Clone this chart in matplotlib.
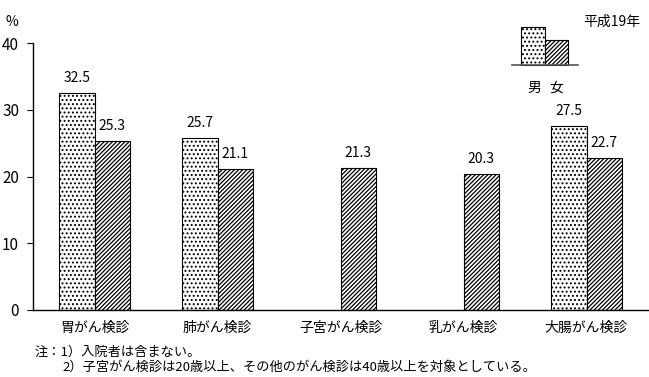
import matplotlib
matplotlib.use("Agg")
import matplotlib.pyplot as plt
import numpy as np
from matplotlib.patches import Rectangle
from matplotlib.lines import Line2D

plt.rcParams['font.family'] = ['Noto Sans CJK JP', 'DejaVu Sans']
plt.rcParams['hatch.linewidth'] = 0.9

categories = ["胃がん検診", "肺がん検診", "子宮がん検診", "乳がん検診", "大腸がん検診"]
male = [32.5, 25.7, None, None, 27.5]
female = [25.3, 21.1, 21.3, 20.3, 22.7]
yticks = [0, 10, 20, 30, 40]

W, H = 649, 377
fig = plt.figure(figsize=(W/100, H/100), dpi=100)
ax = fig.add_axes([33/W, 1-310/H, (648-33)/W, (310-43)/H])

x = np.arange(len(categories))
bw = 0.285
MH = '....'
FH = '////////'
for i in range(len(categories)):
    if male[i] is not None:
        ax.bar(x[i]-bw/2, male[i], bw, facecolor='white', edgecolor='black', hatch=MH, linewidth=0.8)
        ax.text(x[i]-bw/2, male[i]+1.2, f"{male[i]:.1f}", ha='center', va='bottom', fontsize=10)
    ax.bar(x[i]+bw/2, female[i], bw, facecolor='white', edgecolor='black', hatch=FH, linewidth=0.8)
    ax.text(x[i]+bw/2, female[i]+1.2, f"{female[i]:.1f}", ha='center', va='bottom', fontsize=10)

ax.set_xlim(-0.5, 4.5)
ax.set_ylim(0, 40)
ax.set_yticks(yticks)
ax.set_yticklabels([str(v) for v in yticks], fontsize=11)
ax.set_xticks(x)
ax.set_xticklabels(categories, fontsize=10)
ax.tick_params(axis='x', length=0, pad=8)
ax.tick_params(axis='y', length=4, direction='out', pad=6)
for s in ['top', 'right']:
    ax.spines[s].set_visible(False)
ax.spines['left'].set_linewidth(1)
ax.spines['bottom'].set_linewidth(1)

fig.text(12/W, 1-22/H, "%", fontsize=10, ha='center', va='center')

# legend
def px_rect(x0, y0, x1, y1, hatch):
    r = Rectangle((x0/W, 1-y1/H), (x1-x0)/W, (y1-y0)/H, transform=fig.transFigure,
                  facecolor='white', edgecolor='black', hatch=hatch, linewidth=0.8)
    fig.add_artist(r)
px_rect(521, 27, 545, 65, MH)
px_rect(545, 40, 568, 65, FH)
fig.add_artist(Line2D([512/W, 578/W], [1-65/H, 1-65/H], transform=fig.transFigure, color='#555555', linewidth=1.2))
fig.text(534/W, 1-88/H, "男", fontsize=10, ha='center', va='center')
fig.text(556/W, 1-88/H, "女", fontsize=10, ha='center', va='center')
fig.text(612/W, 1-22/H, "平成19年", fontsize=10, ha='center', va='center')

fig.text(35/W, 1-352/H, "注：1）入院者は含まない。", fontsize=9.5, ha='left', va='center')
fig.text(62/W, 1-367/H, "2）子宮がん検診は20歳以上、その他のがん検診は40歳以上を対象としている。", fontsize=9.5, ha='left', va='center')

fig.savefig("out.png", dpi=100)
